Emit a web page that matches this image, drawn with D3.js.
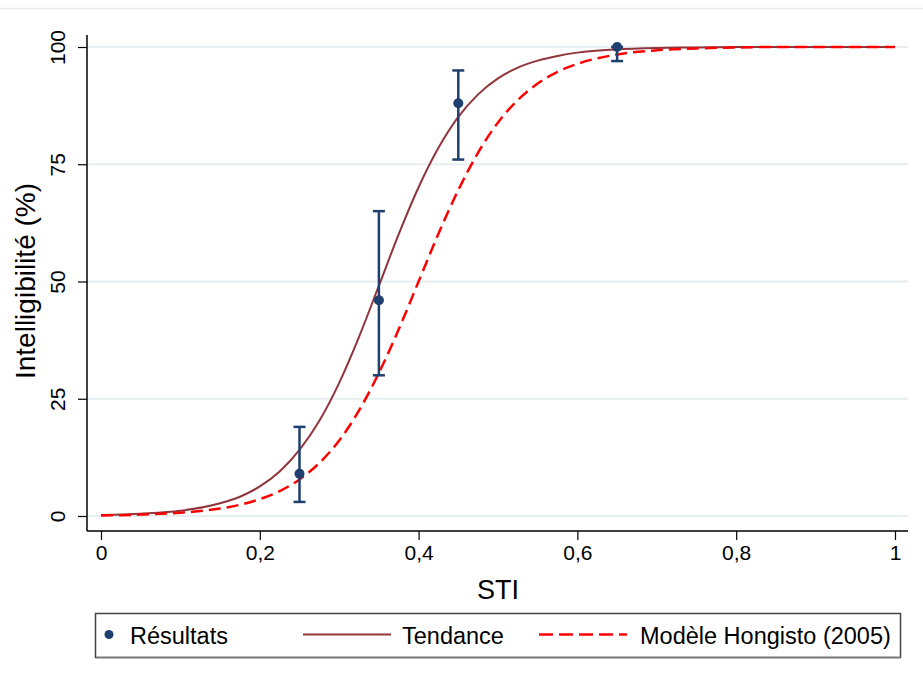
<!DOCTYPE html>
<html>
<head>
<meta charset="utf-8">
<script src="https://cdn.jsdelivr.net/npm/d3@7"></script>
<style>
  html, body { margin: 0; padding: 0; background: #ffffff; }
  svg { display: block; font-family: "Liberation Sans", Arial, sans-serif; }
</style>
</head>
<body>
<svg id="chart" width="923" height="684"></svg>
<script>
// ---- Data ----
const stiGrid = [0, 0.05, 0.1, 0.15, 0.175, 0.2, 0.225, 0.25, 0.275, 0.3, 0.325, 0.35, 0.375, 0.4, 0.425, 0.45, 0.475, 0.5, 0.525, 0.55, 0.575, 0.6, 0.65, 0.7, 0.75, 0.8, 0.85, 0.9, 0.95, 1];
const tendanceValues = [0.2, 0.5, 1.1, 2.7, 4.1, 6.3, 9.5, 14.1, 20.3, 28.4, 38.2, 49.1, 60.1, 70.1, 78.5, 85.1, 89.9, 93.3, 95.6, 97.1, 98.1, 98.8, 99.5, 99.8, 99.9, 100, 100, 100, 100, 100];
const hongistoValues = [0.1, 0.3, 0.7, 1.6, 2.4, 3.6, 5.3, 7.8, 11.3, 16.1, 22.5, 30.5, 39.8, 50, 60.2, 69.5, 77.5, 83.9, 88.7, 92.2, 94.7, 96.4, 98.4, 99.3, 99.7, 99.9, 100, 100, 100, 100];

const resultSTI = [0.25, 0.35, 0.45, 0.65];
const resultMean = [9, 46, 88, 100];
const resultLow = [3, 30, 76, 97];
const resultHigh = [19, 65, 95, 100];

const xTicks = [0, 0.2, 0.4, 0.6, 0.8, 1];
const xTickLabels = ["0", "0,2", "0,4", "0,6", "0,8", "1"];
const yTicks = [0, 25, 50, 75, 100];
const yTickLabels = ["0", "25", "50", "75", "100"];

const xTitle = "STI";
const yTitle = "Intelligibilité (%)";
const legendLabels = ["Résultats", "Tendance", "Modèle Hongisto (2005)"];

// ---- Styles ----
const navy = "#1f3f6e";
const maroon = "#90353b";
const red = "#ff0000";
const gridColor = "#e6eef1";

const svg = d3.select("#chart");
svg.append("rect").attr("width", 923).attr("height", 684).attr("fill", "#fff");
// faint frame line at top
svg.append("line").attr("x1", 0).attr("x2", 923).attr("y1", 8.5).attr("y2", 8.5)
  .attr("stroke", "#e8eef0").attr("stroke-width", 1.5);

const x = d3.scaleLinear().domain([0, 1]).range([101, 895]);
const y = d3.scaleLinear().domain([0, 100]).range([516, 47]);

const axisLeftX = 87, axisBottomY = 531, plotRight = 908, plotTop = 35;

// gridlines
svg.append("g").selectAll("line").data(yTicks).join("line")
  .attr("x1", axisLeftX).attr("x2", plotRight)
  .attr("y1", d => y(d)).attr("y2", d => y(d))
  .attr("stroke", gridColor).attr("stroke-width", 2);

// x axis
const xAxis = d3.axisBottom(x).tickValues(xTicks)
  .tickFormat((d, i) => xTickLabels[i]).tickSize(9).tickSizeOuter(0);
const gx = svg.append("g").attr("transform", `translate(0,${axisBottomY})`).call(xAxis);
gx.select(".domain").remove();
gx.selectAll(".tick line").attr("stroke", "#000").attr("stroke-width", 1.2);
gx.selectAll(".tick text").attr("font-size", 21).attr("fill", "#000")
  .attr("font-family", "Liberation Sans, Arial, sans-serif").attr("y", 14).attr("dy", "0.71em");
svg.append("line").attr("x1", axisLeftX).attr("x2", plotRight)
  .attr("y1", axisBottomY).attr("y2", axisBottomY).attr("stroke", "#000").attr("stroke-width", 1.5);

// y axis
const yAxis = d3.axisLeft(y).tickValues(yTicks)
  .tickFormat((d, i) => yTickLabels[i]).tickSize(9).tickSizeOuter(0);
const gy = svg.append("g").attr("transform", `translate(${axisLeftX},0)`).call(yAxis);
gy.select(".domain").remove();
gy.selectAll(".tick line").attr("stroke", "#000").attr("stroke-width", 1.2);
gy.selectAll(".tick text")
  .attr("font-size", 21).attr("fill", "#000")
  .attr("font-family", "Liberation Sans, Arial, sans-serif")
  .attr("x", null).attr("dy", null)
  .attr("text-anchor", "middle")
  .attr("transform", "translate(-22,0) rotate(-90)");
svg.append("line").attr("x1", axisLeftX).attr("x2", axisLeftX)
  .attr("y1", plotTop).attr("y2", axisBottomY).attr("stroke", "#000").attr("stroke-width", 1.5);

// axis titles
svg.append("text").attr("x", 498).attr("y", 599).attr("text-anchor", "middle")
  .attr("font-size", 27).attr("fill", "#000").text(xTitle);
svg.append("text").attr("transform", "translate(35,281) rotate(-90)").attr("text-anchor", "middle")
  .attr("font-size", 28).attr("fill", "#000").text(yTitle);

// curves
const line = d3.line().x(d => x(d[0])).y(d => y(d[1])).curve(d3.curveMonotoneX);
svg.append("path").datum(stiGrid.map((s, i) => [s, tendanceValues[i]]))
  .attr("d", line).attr("fill", "none").attr("stroke", maroon).attr("stroke-width", 2);
svg.append("path").datum(stiGrid.map((s, i) => [s, hongistoValues[i]]))
  .attr("d", line).attr("fill", "none").attr("stroke", red).attr("stroke-width", 2.5)
  .attr("stroke-dasharray", "12,6");

// error bars
const results = resultSTI.map((s, i) => ({ s, m: resultMean[i], lo: resultLow[i], hi: resultHigh[i] }));
const eb = svg.append("g");
eb.selectAll("line.v").data(results).join("line").attr("class", "v")
  .attr("x1", d => x(d.s)).attr("x2", d => x(d.s))
  .attr("y1", d => y(d.lo)).attr("y2", d => y(d.hi))
  .attr("stroke", navy).attr("stroke-width", 2.5);
eb.selectAll("line.lo").data(results).join("line").attr("class", "lo")
  .attr("x1", d => x(d.s) - 6).attr("x2", d => x(d.s) + 6)
  .attr("y1", d => y(d.lo)).attr("y2", d => y(d.lo))
  .attr("stroke", navy).attr("stroke-width", 2.5);
eb.selectAll("line.hi").data(results).join("line").attr("class", "hi")
  .attr("x1", d => x(d.s) - 6).attr("x2", d => x(d.s) + 6)
  .attr("y1", d => y(d.hi)).attr("y2", d => y(d.hi))
  .attr("stroke", navy).attr("stroke-width", 2.5);
eb.selectAll("circle").data(results).join("circle")
  .attr("cx", d => x(d.s)).attr("cy", d => y(d.m)).attr("r", 5).attr("fill", navy);

// legend
const lg = svg.append("g");
lg.append("rect").attr("x", 95.5).attr("y", 613.5).attr("width", 805).attr("height", 44)
  .attr("fill", "#fff").attr("stroke", "#444").attr("stroke-width", 1.5);
lg.append("line").attr("x1", 96).attr("x2", 901).attr("y1", 657.5).attr("y2", 657.5)
  .attr("stroke", "#777").attr("stroke-width", 1.5);
lg.append("circle").attr("cx", 109).attr("cy", 634.5).attr("r", 4.5).attr("fill", navy);
lg.append("text").attr("x", 130).attr("y", 643.5).attr("font-size", 23.5).attr("fill", "#000").text(legendLabels[0]);
lg.append("line").attr("x1", 303).attr("x2", 391).attr("y1", 634.5).attr("y2", 634.5)
  .attr("stroke", maroon).attr("stroke-width", 2);
lg.append("text").attr("x", 402).attr("y", 643.5).attr("font-size", 23.5).attr("fill", "#000").text(legendLabels[1]);
lg.append("line").attr("x1", 539).attr("x2", 627).attr("y1", 634.5).attr("y2", 634.5)
  .attr("stroke", red).attr("stroke-width", 2.5).attr("stroke-dasharray", "14,6");
lg.append("text").attr("x", 640).attr("y", 643.5).attr("font-size", 23.5).attr("fill", "#000").text(legendLabels[2]);
</script>
</body>
</html>
